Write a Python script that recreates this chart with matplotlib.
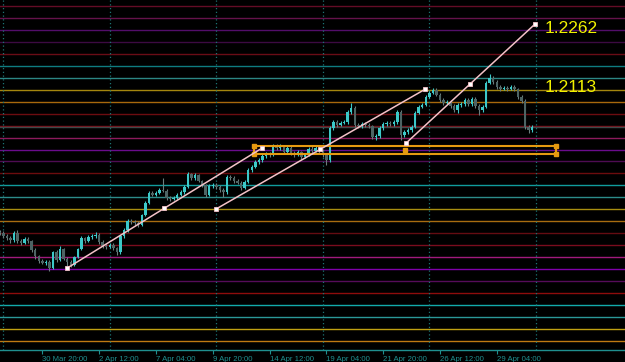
import matplotlib
matplotlib.use("Agg")
import matplotlib.pyplot as plt
from matplotlib.patches import Rectangle

# ---------------- data (EURUSD H4, bar index 0 = 29 Mar 2021 00:00) ----------------
bar_start = -1
opens = [1.1757, 1.1755, 1.1747, 1.1742, 1.1737, 1.1755, 1.1735, 1.1730, 1.1740, 1.1735,
         1.1712, 1.1697, 1.1685, 1.1680, 1.1682, 1.1667, 1.1707, 1.1687, 1.1715, 1.1690,
         1.1682, 1.1675, 1.1695, 1.1715, 1.1742, 1.1735, 1.1745, 1.1747, 1.1750, 1.1732,
         1.1722, 1.1720, 1.1725, 1.1717, 1.1707, 1.1747, 1.1762, 1.1785, 1.1783, 1.1780,
         1.1775, 1.1800, 1.1830, 1.1855, 1.1850, 1.1855, 1.1862, 1.1860, 1.1842, 1.1840,
         1.1843, 1.1850, 1.1857, 1.1870, 1.1902, 1.1892, 1.1900, 1.1885, 1.1875, 1.1850,
         1.1872, 1.1875, 1.1870, 1.1862, 1.1857, 1.1895, 1.1892, 1.1885, 1.1880, 1.1867,
         1.1882, 1.1912, 1.1920, 1.1932, 1.1937, 1.1947, 1.1952, 1.1950, 1.1972, 1.1967,
         1.1970, 1.1957, 1.1967, 1.1955, 1.1950, 1.1957, 1.1945, 1.1950, 1.1965, 1.1960,
         1.1967, 1.1960, 1.1950, 1.1937, 1.2017, 1.2032, 1.2025, 1.2030, 1.2032, 1.2057,
         1.2067, 1.2025, 1.2022, 1.2027, 1.2025, 1.2022, 1.1995, 1.1997, 1.2017, 1.2027,
         1.2030, 1.2027, 1.2032, 1.2057, 1.2000, 1.2007, 1.2012, 1.2020, 1.2055, 1.2070,
         1.2075, 1.2095, 1.2105, 1.2112, 1.2100, 1.2087, 1.2080, 1.2082, 1.2072, 1.2062,
         1.2075, 1.2077, 1.2087, 1.2077, 1.2090, 1.2072, 1.2062, 1.2070, 1.2130, 1.2142,
         1.2132, 1.2120, 1.2115, 1.2117, 1.2115, 1.2120, 1.2115, 1.2095, 1.2085, 1.2020,
         1.2012]
highs = [1.1762, 1.1760, 1.1752, 1.1746, 1.1760, 1.1763, 1.1740, 1.1744, 1.1745, 1.1738,
         1.1716, 1.1700, 1.1690, 1.1687, 1.1686, 1.1710, 1.1712, 1.1722, 1.1718, 1.1695,
         1.1686, 1.1698, 1.1718, 1.1748, 1.1745, 1.1750, 1.1752, 1.1757, 1.1755, 1.1736,
         1.1727, 1.1730, 1.1729, 1.1720, 1.1750, 1.1767, 1.1790, 1.1790, 1.1788, 1.1785,
         1.1803, 1.1835, 1.1860, 1.1860, 1.1860, 1.1868, 1.1893, 1.1865, 1.1846, 1.1848,
         1.1854, 1.1862, 1.1875, 1.1908, 1.1905, 1.1905, 1.1903, 1.1888, 1.1878, 1.1876,
         1.1880, 1.1880, 1.1874, 1.1866, 1.1899, 1.1900, 1.1896, 1.1889, 1.1884, 1.1886,
         1.1916, 1.1925, 1.1937, 1.1942, 1.1952, 1.1957, 1.1956, 1.1977, 1.1976, 1.1976,
         1.1974, 1.1972, 1.1975, 1.1959, 1.1961, 1.1960, 1.1955, 1.1970, 1.1974, 1.1972,
         1.1971, 1.1964, 1.1953, 1.2022, 1.2037, 1.2036, 1.2034, 1.2037, 1.2062, 1.2080,
         1.2071, 1.2030, 1.2032, 1.2031, 1.2030, 1.2025, 1.2002, 1.2021, 1.2031, 1.2035,
         1.2034, 1.2037, 1.2062, 1.2061, 1.2011, 1.2016, 1.2025, 1.2060, 1.2075, 1.2080,
         1.2100, 1.2110, 1.2117, 1.2116, 1.2104, 1.2091, 1.2088, 1.2086, 1.2076, 1.2079,
         1.2082, 1.2092, 1.2091, 1.2095, 1.2094, 1.2076, 1.2075, 1.2135, 1.2152, 1.2146,
         1.2136, 1.2124, 1.2122, 1.2121, 1.2124, 1.2124, 1.2118, 1.2099, 1.2089, 1.2024,
         1.2024]
lows = [1.1750, 1.1742, 1.1737, 1.1730, 1.1733, 1.1730, 1.1725, 1.1727, 1.1730, 1.1708,
        1.1690, 1.1680, 1.1676, 1.1675, 1.1660, 1.1664, 1.1683, 1.1684, 1.1686, 1.1672,
        1.1670, 1.1672, 1.1692, 1.1712, 1.1730, 1.1732, 1.1740, 1.1743, 1.1728, 1.1717,
        1.1714, 1.1716, 1.1712, 1.1700, 1.1703, 1.1743, 1.1758, 1.1778, 1.1775, 1.1770,
        1.1772, 1.1797, 1.1826, 1.1846, 1.1847, 1.1851, 1.1856, 1.1838, 1.1835, 1.1836,
        1.1839, 1.1846, 1.1853, 1.1866, 1.1888, 1.1888, 1.1881, 1.1870, 1.1845, 1.1847,
        1.1866, 1.1865, 1.1857, 1.1845, 1.1853, 1.1887, 1.1880, 1.1876, 1.1862, 1.1864,
        1.1879, 1.1908, 1.1916, 1.1928, 1.1933, 1.1942, 1.1945, 1.1946, 1.1962, 1.1963,
        1.1953, 1.1953, 1.1950, 1.1945, 1.1946, 1.1940, 1.1941, 1.1946, 1.1955, 1.1956,
        1.1955, 1.1945, 1.1925, 1.1933, 1.2013, 1.2020, 1.2021, 1.2026, 1.2028, 1.2053,
        1.2020, 1.2017, 1.2018, 1.2020, 1.2017, 1.1990, 1.1988, 1.1993, 1.2013, 1.2023,
        1.2022, 1.2023, 1.2028, 1.1988, 1.1995, 1.2003, 1.2008, 1.2016, 1.2051, 1.2066,
        1.2071, 1.2091, 1.2101, 1.2096, 1.2082, 1.2075, 1.2076, 1.2068, 1.2057, 1.2055,
        1.2070, 1.2073, 1.2072, 1.2073, 1.2068, 1.2050, 1.2058, 1.2066, 1.2126, 1.2127,
        1.2115, 1.2110, 1.2111, 1.2110, 1.2111, 1.2110, 1.2090, 1.2080, 1.2015, 1.2005,
        1.2008]
closes = [1.1755, 1.1747, 1.1742, 1.1737, 1.1755, 1.1735, 1.1730, 1.1740, 1.1735, 1.1712,
          1.1697, 1.1685, 1.1680, 1.1682, 1.1667, 1.1707, 1.1687, 1.1715, 1.1690, 1.1682,
          1.1675, 1.1695, 1.1715, 1.1742, 1.1735, 1.1745, 1.1747, 1.1750, 1.1732, 1.1722,
          1.1720, 1.1725, 1.1717, 1.1707, 1.1747, 1.1762, 1.1785, 1.1783, 1.1780, 1.1775,
          1.1800, 1.1830, 1.1855, 1.1850, 1.1855, 1.1862, 1.1860, 1.1842, 1.1840, 1.1843,
          1.1850, 1.1857, 1.1870, 1.1902, 1.1892, 1.1900, 1.1885, 1.1875, 1.1850, 1.1872,
          1.1875, 1.1870, 1.1862, 1.1857, 1.1895, 1.1892, 1.1885, 1.1880, 1.1867, 1.1882,
          1.1912, 1.1920, 1.1932, 1.1937, 1.1947, 1.1952, 1.1950, 1.1972, 1.1967, 1.1970,
          1.1957, 1.1967, 1.1955, 1.1950, 1.1957, 1.1945, 1.1950, 1.1965, 1.1960, 1.1967,
          1.1960, 1.1950, 1.1937, 1.2017, 1.2032, 1.2025, 1.2030, 1.2032, 1.2057, 1.2067,
          1.2025, 1.2022, 1.2027, 1.2025, 1.2022, 1.1995, 1.1997, 1.2017, 1.2027, 1.2030,
          1.2027, 1.2032, 1.2057, 1.2000, 1.2007, 1.2012, 1.2020, 1.2055, 1.2070, 1.2075,
          1.2095, 1.2105, 1.2112, 1.2100, 1.2087, 1.2080, 1.2082, 1.2072, 1.2062, 1.2075,
          1.2077, 1.2087, 1.2077, 1.2090, 1.2072, 1.2062, 1.2070, 1.2130, 1.2142, 1.2132,
          1.2120, 1.2115, 1.2117, 1.2115, 1.2120, 1.2115, 1.2095, 1.2085, 1.2020, 1.2012,
          1.2020]

# weekly period separators (bar index)
week_separators = [0, 30, 60, 90, 120, 150]

# time axis labels
tick_bars = [-5, 11, 27, 43, 59, 75, 91, 107, 123, 139]
tick_labels = ["26 Mar 2021", "30 Mar 20:00", "2 Apr 12:00", "7 Apr 04:00", "9 Apr 20:00",
               "14 Apr 12:00", "19 Apr 04:00", "21 Apr 20:00", "26 Apr 12:00", "29 Apr 04:00"]

# horizontal grid of levels (top to bottom)
level_top = 1.2322
level_step = 0.00299
level_colors = ["#640c26", "#64124a", "#520e6a", "#3c0a42", "#6a0c16",
                "#0e7c80", "#2c8684", "#a4860e", "#a8680c", "#6c0c10",
                "#7c0c18", "#8c1a5c", "#6a0c8c", "#4e0c52", "#6c0c0e",
                "#109c9c", "#2c8c8a", "#a88e10", "#a86c10", "#640c12",
                "#7a0c1e", "#a01a7c", "#8000aa", "#560c5a", "#8e0c0c",
                "#12aaaa", "#2a9898", "#c0a012", "#c07a12"]

# trend lines: (bar1, price1, bar2, price2)
trend_lines = [
    (17.9, 1.16663, 72.8, 1.19663),
    (59.8, 1.18138, 118.8, 1.21138),
    (113.4, 1.19788, 149.8, 1.22770),
]
# rectangle zone: (bar1, bar2, price_low, price_high)
zone = (70.7, 155.7, 1.19520, 1.19720)

# price labels
label_prices = [1.2262, 1.2113]
label_text_y = [1.22670, 1.21175]
label_bar = 152.6

# ---------------- styling ----------------
BG = "#000000"
BULL = "#3cc8c8"
BEAR = "#4d6464"
WICK = "#6b7d7d"
AXIS = "#1f8f8f"
SEP = "#1c7474"
PINK = "#f4c2c8"
ORANGE = "#e69a10"
YELLOW = "#f2f200"

fig = plt.figure(figsize=(6.25, 3.62), dpi=100, facecolor=BG)
ax = fig.add_axes([0, 12 / 362, 1, 350 / 362])
ax.set_facecolor(BG)

# levels
for k, col in enumerate(level_colors):
    ax.axhline(level_top - k * level_step, color=col, lw=1.0, zorder=1)

# separators
for b in week_separators:
    ax.axvline(b, color=SEP, lw=0.9, ls=(0, (1, 2)), zorder=1.5)

# bid line
ax.axhline(closes[-1], color="#3e4a4a", lw=1.0, zorder=1.6)

# candles
bw = 0.68
for j in range(len(closes)):
    b = bar_start + j
    o, h, l, c = opens[j], highs[j], lows[j], closes[j]
    col = BULL if c >= o else BEAR
    ax.vlines(b, l, h, color=WICK if c < o else BULL, lw=0.8, zorder=3)
    lo, hi = min(o, c), max(o, c)
    hgt = max(hi - lo, 0.00008)
    ax.add_patch(Rectangle((b - bw / 2, lo), bw, hgt, facecolor=col, edgecolor="none", zorder=4))

# zone rectangle
zb1, zb2, zp1, zp2 = zone
ax.add_patch(Rectangle((zb1, zp1), zb2 - zb1, zp2 - zp1, facecolor="none",
                       edgecolor=ORANGE, lw=1.5, zorder=5))
ax.plot([zb1, zb1, zb2, zb2, (zb1 + zb2) / 2], [zp1, zp2, zp1, zp2, (zp1 + zp2) / 2],
        ls="none", marker="s", ms=2.4, mfc=ORANGE, mec=ORANGE, zorder=6)

# trend lines
for (b1, p1, b2, p2) in trend_lines:
    ax.plot([b1, b2], [p1, p2], color=PINK, lw=1.1, zorder=6)
    ax.plot([b1, (b1 + b2) / 2, b2], [p1, (p1 + p2) / 2, p2], ls="none", marker="s",
            ms=2.6, mfc="#ffffff", mec=PINK, mew=0.6, zorder=7)

# price labels
for p, ty in zip(label_prices, label_text_y):
    ax.text(label_bar, ty, f"{p:.4f}", color=YELLOW, fontsize=12.5,
            family=["Liberation Sans", "DejaVu Sans"], va="center", ha="left", zorder=8)

# axes decoration
for s in ["top", "left", "right"]:
    ax.spines[s].set_visible(False)
ax.spines["bottom"].set_color(AXIS)
ax.spines["bottom"].set_linewidth(1.0)
ax.set_yticks([])
ax.set_xticks(tick_bars)
ax.set_xticklabels(tick_labels, ha="left", family=["Liberation Sans Narrow", "Liberation Sans", "DejaVu Sans"],
                   fontsize=5.6, color=AXIS)
ax.tick_params(axis="x", colors=AXIS, length=3, width=0.8, pad=1.0, labelcolor=AXIS)

# view limits (set after ticks so they are not expanded)
px_per_bar = 3.55
x0 = -3.3 / px_per_bar
ax.set_xlim(x0, x0 + 625 / px_per_bar)
ax.set_ylim(1.2337 - 350 * 0.00025, 1.2337)

fig.savefig("out.png", dpi=100, facecolor=BG)
